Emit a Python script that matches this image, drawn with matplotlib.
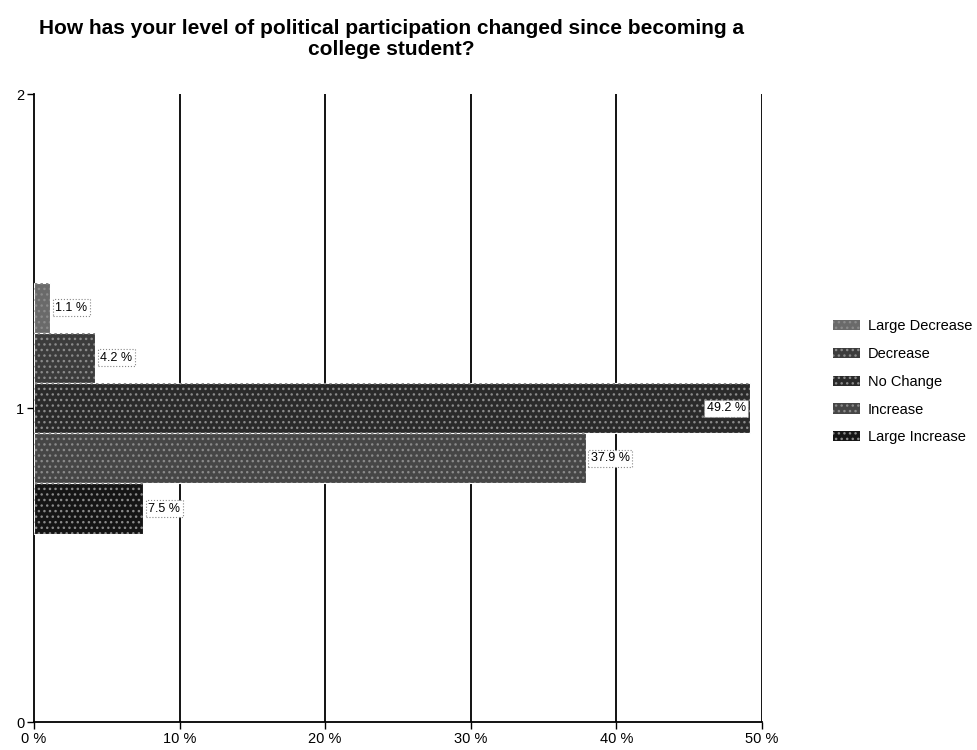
import matplotlib
matplotlib.use("Agg")
import matplotlib.pyplot as plt
from matplotlib.patches import Patch

plt.rcParams['font.family'] = ['Liberation Sans', 'DejaVu Sans']

title = "How has your level of political participation changed since becoming a\ncollege student?"
categories = ["Large Decrease", "Decrease", "No Change", "Increase", "Large Increase"]
values = [1.1, 4.2, 49.2, 37.9, 7.5]
labels = ["1.1 %", "4.2 %", "49.2 %", "37.9 %", "7.5 %"]
colors = ["#6a6a6a", "#3c3c3c", "#2a2a2a", "#464646", "#151515"]
offsets = [0.32, 0.16, 0.0, -0.16, -0.32]
xticks = [0, 10, 20, 30, 40, 50]
xticklabels = ["0 %", "10 %", "20 %", "30 %", "40 %", "50 %"]
yticks = [0, 1, 2]

fig = plt.figure(figsize=(9.77, 7.5), dpi=100)
ax = fig.add_axes([0.0348, 0.0373, 0.745, 0.837])

for cat, v, c, off, lab in zip(categories, values, colors, offsets, labels):
    ax.barh(1 + off, v, height=0.16, color=c, edgecolor="white", linewidth=0.8,
            label=cat, zorder=3)
    ax.barh(1 + off, v, height=0.16, facecolor="none", edgecolor="#8a8a8a",
            linewidth=0, hatch="...", zorder=3.5)
    bbox = dict(boxstyle="square,pad=0.2", facecolor="white", edgecolor="#888888",
                linestyle=":", linewidth=0.8)
    if v > 45:
        ax.text(v - 0.3, 1 + off, lab, ha="right", va="center", fontsize=9,
                bbox=bbox, zorder=5)
    else:
        ax.text(v + 0.35, 1 + off, lab, ha="left", va="center", fontsize=9,
                bbox=bbox, zorder=5)

ax.set_xlim(0, 50)
ax.set_ylim(0, 2)
ax.set_xticks(xticks)
ax.set_xticklabels(xticklabels, fontsize=10.5)
ax.set_yticks(yticks)
ax.set_yticklabels([str(t) for t in yticks], fontsize=10.5)
ax.tick_params(axis="x", length=5, width=1, pad=2)
ax.tick_params(axis="y", length=5, width=1, pad=2)
for x in xticks[1:]:
    ax.axvline(x, color="black", linewidth=1.3, zorder=1)
ax.spines["top"].set_visible(False)
ax.spines["right"].set_visible(False)
ax.spines["left"].set_linewidth(1.3)
ax.spines["bottom"].set_linewidth(1.3)

fig.text(0.401, 1 - 55 / 750, title, ha="center", va="baseline", fontsize=15,
         fontweight="bold", linespacing=1.12)

handles = []
for c in colors:
    handles.append(Patch(facecolor=c, edgecolor="#8a8a8a", linewidth=0, hatch="..."))
fig.legend(handles, categories, loc="center left", bbox_to_anchor=(0.853, 0.491),
           frameon=False, fontsize=10.5, handlelength=1.85, handleheight=0.7,
           handletextpad=0.5, labelspacing=0.95, borderpad=0, borderaxespad=0)

fig.savefig("out.png", dpi=100)
